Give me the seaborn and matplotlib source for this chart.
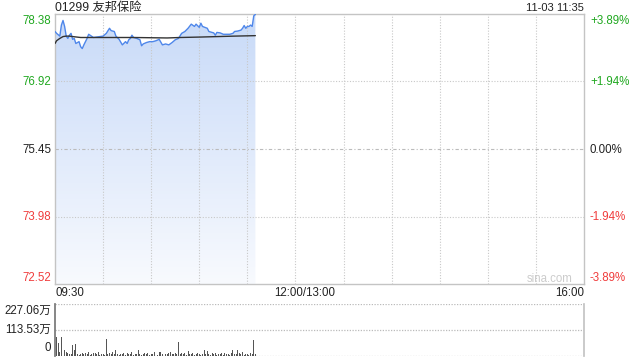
import numpy as np
import pandas as pd
import matplotlib
matplotlib.use("Agg")
import matplotlib.pyplot as plt
import seaborn as sns
from matplotlib.colors import LinearSegmentedColormap
from matplotlib.patches import PathPatch

# ---------------- data ----------------
title = "01299 友邦保险"
stamp = "11-03 11:35"
prev_close = 75.45
price_ticks = [78.38, 76.92, 75.45, 73.98, 72.52]
pct_labels = ["+3.89%", "+1.94%", "0.00%", "-1.94%", "-3.89%"]
vol_labels = ["227.06万", "113.53万", "0"]
vol_max = 227.06
time_labels = ["09:30", "12:00/13:00", "16:00"]

# minutes since 09:30 (trading minutes; 12:00/13:00 = 150, 16:00 = 330)
price_min = [0, 1, 3, 4, 5, 6, 7, 8, 9, 10, 11, 12, 13, 15, 16, 17, 18, 19, 20, 21,
             24, 28, 30, 32, 34, 35, 37, 38, 40, 42, 44, 45, 46, 47, 48, 49, 51, 53,
             54, 55, 57, 59, 61, 63, 65, 67, 69, 71, 73, 75, 77, 79, 81, 83, 85, 87,
             88, 90, 91, 92, 95, 96, 99, 100, 101, 103, 105, 109, 111, 112, 114, 116,
             117, 118, 119, 120, 121, 122, 123, 124, 125]
price_val = [78.00, 77.96, 77.90, 78.14, 78.24, 78.11, 77.90, 77.85, 77.92, 77.96,
             77.83, 77.85, 77.74, 77.78, 77.67, 77.63, 77.71, 77.78, 77.85, 77.94,
             77.87, 77.89, 77.90, 77.96, 78.07, 78.02, 78.00, 77.90, 77.83, 77.71,
             77.78, 77.74, 77.82, 77.85, 77.92, 77.87, 77.85, 77.82, 77.69, 77.73,
             77.76, 77.78, 77.78, 77.80, 77.83, 77.71, 77.73, 77.71, 77.76, 77.82,
             77.85, 77.96, 78.00, 78.07, 78.16, 78.11, 78.16, 78.09, 78.18, 78.11,
             78.07, 78.00, 77.97, 77.92, 77.98, 77.97, 77.94, 77.94, 77.96, 78.00,
             78.01, 78.03, 78.07, 78.13, 78.07, 78.11, 78.11, 78.14, 78.11, 78.34,
             78.37]

avg_min = [0, 1, 3, 5, 7, 9, 11, 16, 28, 49, 70, 78, 91, 112, 125]
avg_val = [77.74, 77.80, 77.85, 77.89, 77.90, 77.90, 77.89, 77.87, 77.87, 77.87,
           77.86, 77.87, 77.88, 77.90, 77.91]

# volume per minute (万)
vol_val = [227, 82, 58, 19, 82, 58, 26, 19, 12, 10, 8, 48, 26, 52, 10, 6, 8, 12, 10, 14,
           8, 16, 6, 10, 14, 12, 8, 16, 6, 10, 8, 6, 74, 10, 12, 8, 16, 10, 26, 8,
           6, 10, 8, 12, 6, 14, 8, 10, 19, 6, 8, 10, 26, 8, 6, 10, 12, 8, 14, 6,
           8, 10, 19, 8, 6, 19, 17, 8, 6, 10, 8, 12, 16, 8, 10, 14, 8, 60, 10, 12,
           8, 14, 6, 23, 10, 8, 12, 6, 10, 14, 8, 6, 10, 26, 8, 24, 10, 6, 12, 8,
           14, 6, 10, 8, 12, 6, 14, 8, 10, 6, 12, 26, 8, 10, 26, 12, 8, 16, 6, 10,
           8, 6, 12, 10, 70, 8]
vol_min = list(range(len(vol_val)))

price_df = pd.DataFrame({"m": price_min, "p": price_val})
avg_df = pd.DataFrame({"m": avg_min, "p": avg_val})

# ---------------- style ----------------
sns.set_theme(style="white")
plt.rcParams["font.family"] = ["Liberation Sans", "Noto Sans CJK SC", "DejaVu Sans"]

GREEN = "#20a820"
RED = "#f03c3c"
DARK = "#222222"
GRID = "#c8c8c8"
FS = 8.3

W, H = 640, 360
fig = plt.figure(figsize=(W / 100, H / 100), dpi=100)

def fx(px):
    return px / W

def fy(py):
    return 1 - py / H

L, R = 55, 584
T1, B1 = 14, 284
T2, B2 = 304, 356

ax = fig.add_axes([fx(L), fy(B1), (R - L) / W, (B1 - T1) / H])
axv = fig.add_axes([fx(L), fy(B2), (R - L) / W, (B2 - T2) / H])

ymin, ymax = price_ticks[-1], price_ticks[0]

# gradient fill under price line
poly = ax.fill_between(price_df["m"], price_df["p"], ymin, facecolor="none", edgecolor="none")
path = poly.get_paths()[0]
patch = PathPatch(path, transform=ax.transData, facecolor="none", edgecolor="none")
ax.add_patch(patch)
cmap = LinearSegmentedColormap.from_list("g", ["#f8fafe", "#c8daf8"])
grad = np.linspace(0, 1, 256).reshape(-1, 1)
im = ax.imshow(grad, extent=[0, 125, ymin, ymax], origin="lower", aspect="auto",
               cmap=cmap, zorder=1)
im.set_clip_path(patch)

sns.lineplot(data=price_df, x="m", y="p", ax=ax, color="#4f87ea", lw=1.0, zorder=3)
sns.lineplot(data=avg_df, x="m", y="p", ax=ax, color="#333333", lw=1.0, zorder=4)

ax.set_xlim(0, 330)
ax.set_ylim(ymin, ymax)
ax.set_xticks([])
ax.set_yticks([])
ax.set_xlabel("")
ax.set_ylabel("")
for x in range(30, 330, 30):
    ax.axvline(x, color=GRID, lw=0.8, ls=(0, (1, 1.5)), zorder=2)
for y in [price_ticks[1], price_ticks[3]]:
    ax.axhline(y, color=GRID, lw=0.8, ls=(0, (1, 1.5)), zorder=2)
ax.axhline(prev_close, color="#bbbbbb", lw=0.8, ls=(0, (3, 2, 1, 2)), zorder=2)
for s in ax.spines.values():
    s.set_color("#c4c4c4")
    s.set_linewidth(1.0)

# volume
axv.bar(vol_min, vol_val, width=0.6, color="#555555", linewidth=0)
axv.set_xlim(0, 330)
axv.set_ylim(0, vol_max)
axv.set_xticks([])
axv.set_yticks([])
for y in [vol_max, vol_max / 2, 0.9]:
    axv.axhline(y, color="#bbbbbb", lw=0.9, ls=(0, (1, 1.2)), zorder=0.5)
axv.spines["top"].set_visible(False)
axv.spines["bottom"].set_visible(False)
axv.spines["left"].set_color("#777777")
axv.spines["right"].set_color("#c4c4c4")

# texts
fig.text(fx(55), fy(7.5), title, fontsize=8.8, color=DARK, ha="left", va="center")
fig.text(fx(584), fy(8), stamp, fontsize=FS - 0.3, color=DARK, ha="right", va="center")

left_y = [20.5, 82, 149.5, 217, 278]
lcolors = [GREEN, GREEN, DARK, RED, RED]
for t, yy, c in zip(price_ticks, left_y, lcolors):
    fig.text(fx(51), fy(yy), f"{t:.2f}", fontsize=FS, color=c, ha="right", va="center")
for t, yy, c in zip(pct_labels, left_y, lcolors):
    fig.text(fx(590), fy(yy), t, fontsize=FS, color=c, ha="left", va="center")

fig.text(fx(55), fy(293), time_labels[0], fontsize=FS, color=DARK, ha="left", va="center")
fig.text(fx(305), fy(293), time_labels[1], fontsize=FS, color=DARK, ha="center", va="center")
fig.text(fx(584), fy(293), time_labels[2], fontsize=FS, color=DARK, ha="right", va="center")

for t, yy in zip(vol_labels, [310.7, 329.7, 348.3]):
    fig.text(fx(51), fy(yy), t, fontsize=FS, color=DARK, ha="right", va="center")

fig.text(fx(573), fy(279.5), "sina.com", fontsize=8.3, color="#cccccc", ha="right", va="center")

fig.savefig("out.png", dpi=100)
